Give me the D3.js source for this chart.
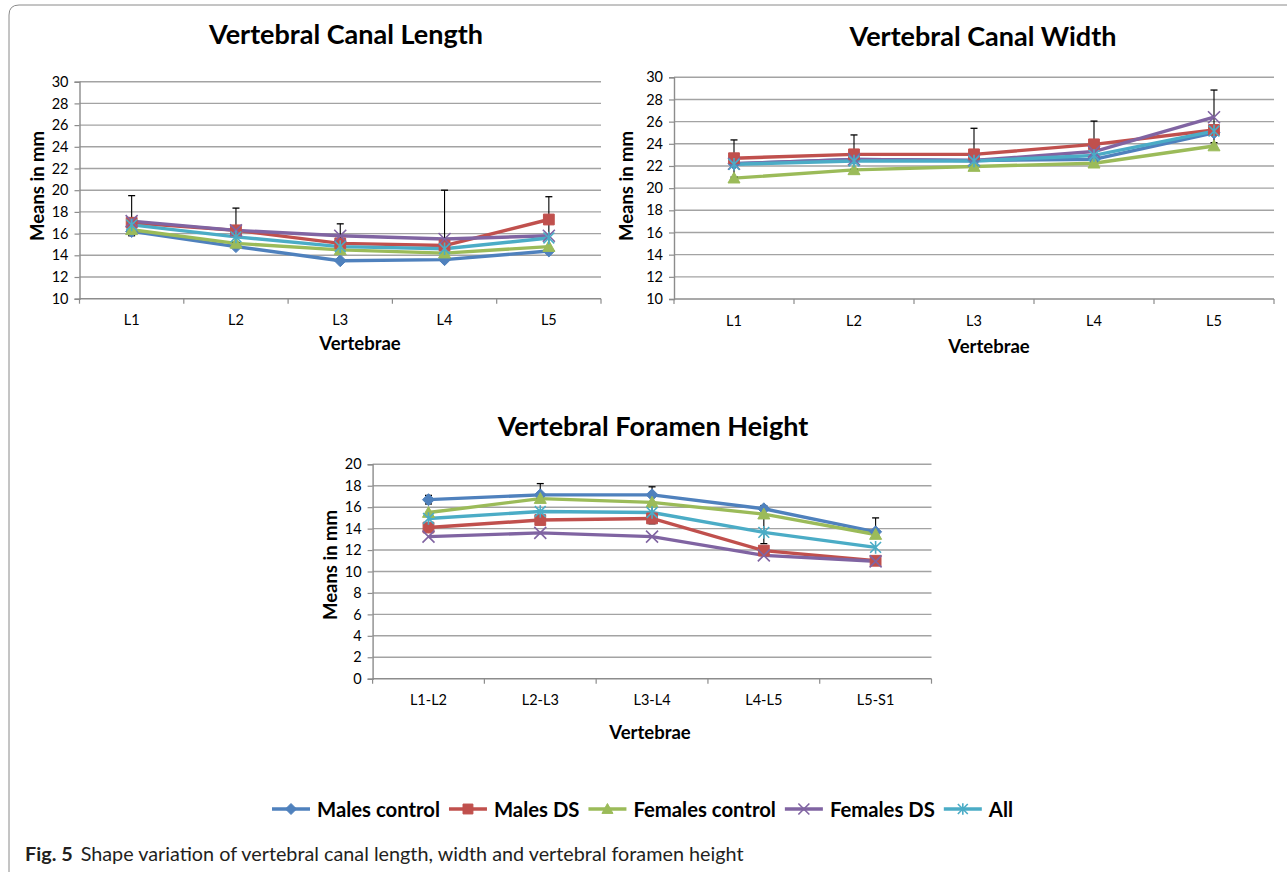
<!DOCTYPE html>
<html>
<head>
<meta charset="utf-8">
<script src="https://cdn.jsdelivr.net/npm/d3@7"></script>
<style>
  html, body { margin: 0; padding: 0; background: #ffffff; }
  svg { display: block; }
  text { font-family: Lato, "Open Sans", sans-serif; }
</style>
</head>
<body>
<svg id="fig" width="1287" height="872"></svg>
<script>
// ---------------- data ----------------
const seriesNames = ["Males control", "Males DS", "Females control", "Females DS", "All"];
const seriesColors = ["#4F81BD", "#C0504D", "#9BBB59", "#8064A2", "#4BACC6"];
const seriesMarkers = ["diamond", "square", "triangle", "x", "star"];

const lengthCategories = ["L1", "L2", "L3", "L4", "L5"];
const lengthMalesControl   = [16.2, 14.8, 13.5, 13.6, 14.4];
const lengthMalesDS        = [17.0, 16.3, 15.1, 14.9, 17.3];
const lengthFemalesControl = [16.35, 15.1, 14.5, 14.2, 14.8];
const lengthFemalesDS      = [17.15, 16.3, 15.8, 15.5, 15.8];
const lengthAll            = [16.8, 15.7, 14.8, 14.6, 15.6];
const lengthErrHigh        = [19.5, 18.35, 16.9, 20.0, 19.4];
const lengthErrLow         = [15.8, 15.2, 14.4, 14.2, 14.6];
const lengthTicks = [10, 12, 14, 16, 18, 20, 22, 24, 26, 28, 30];

const widthCategories = ["L1", "L2", "L3", "L4", "L5"];
const widthMalesControl   = [22.2, 22.6, 22.5, 22.6, 25.0];
const widthMalesDS        = [22.7, 23.05, 23.05, 23.95, 25.25];
const widthFemalesControl = [20.9, 21.65, 21.95, 22.25, 23.8];
const widthFemalesDS      = [22.2, 22.6, 22.5, 23.3, 26.4];
const widthAll            = [22.15, 22.45, 22.45, 22.95, 25.15];
const widthErrHigh        = [24.35, 24.8, 25.4, 26.05, 28.85];
const widthErrLow         = [21.0, 21.7, 22.0, 22.4, 24.1];
const widthTicks = [10, 12, 14, 16, 18, 20, 22, 24, 26, 28, 30];

const heightCategories = ["L1-L2", "L2-L3", "L3-L4", "L4-L5", "L5-S1"];
const heightMalesControl   = [16.7, 17.15, 17.15, 15.85, 13.7];
const heightMalesDS        = [14.1, 14.8, 14.95, 11.95, 11.0];
const heightFemalesControl = [15.5, 16.8, 16.45, 15.35, 13.45];
const heightFemalesDS      = [13.25, 13.6, 13.25, 11.5, 10.95];
const heightAll            = [14.95, 15.6, 15.5, 13.65, 12.25];
const heightErrHigh        = [17.1, 18.2, 17.9, 16.15, 15.0];
const heightErrLow         = [16.3, 16.8, 14.45, 12.6, 13.4];
const heightTicks = [0, 2, 4, 6, 8, 10, 12, 14, 16, 18, 20];

// ---------------- drawing ----------------
const svg = d3.select("#fig");

// figure frame
svg.append("path")
  .attr("d", "M9,872 L9,15 Q9,5 19,5 L1287,5")
  .attr("fill", "none").attr("stroke", "#8a8a8a").attr("stroke-width", 1);

function markerPath(type, s) {
  const r = s;
  switch (type) {
    case "diamond": return `M0,${-r} L${r},0 L0,${r} L${-r},0 Z`;
    case "square": return `M${-r*0.9},${-r*0.9} H${r*0.9} V${r*0.9} H${-r*0.9} Z`;
    case "triangle": return `M0,${-r} L${r},${r*0.8} L${-r},${r*0.8} Z`;
    case "x": return `M${-r},${-r} L${r},${r} M${-r},${r} L${r},${-r}`;
    case "star": return `M${-r*0.9},${-r*0.9} L${r*0.9},${r*0.9} M${-r*0.9},${r*0.9} L${r*0.9},${-r*0.9} M0,${-r*1.05} L0,${r*1.05}`;
  }
}
function drawMarker(g, type, color, x, y, s) {
  const filled = (type === "diamond" || type === "square" || type === "triangle");
  g.append("path")
    .attr("d", markerPath(type, s))
    .attr("transform", `translate(${x},${y})`)
    .attr("fill", filled ? color : "none")
    .attr("stroke", color)
    .attr("stroke-width", filled ? 1 : 1.6);
}

function drawChart(cfg) {
  const g = svg.append("g");
  const x = d3.scaleBand().domain(cfg.categories).range([cfg.left, cfg.right]);
  const y = d3.scaleLinear().domain(cfg.domain).range([cfg.bottom, cfg.top]);

  // gridlines
  g.append("g").selectAll("line").data(cfg.ticks.filter(t => t !== cfg.domain[0])).join("line")
    .attr("x1", cfg.left).attr("x2", cfg.right)
    .attr("y1", d => y(d)).attr("y2", d => y(d))
    .attr("stroke", "#a3a3a3").attr("stroke-width", 1.4);

  // y axis
  const yAxis = d3.axisLeft(y).tickValues(cfg.ticks).tickSize(5).tickPadding(6).tickFormat(d3.format("d"));
  const ya = g.append("g").attr("transform", `translate(${cfg.left},0)`).call(yAxis);
  ya.select(".domain").attr("stroke", "#8c8c8c").attr("stroke-width", 1.4);
  ya.selectAll(".tick line").attr("stroke", "#8c8c8c").attr("stroke-width", 1.2);
  ya.selectAll(".tick text").attr("font-size", 14.5).attr("fill", "#000").style("font-family", "Lato");

  // x axis
  const xa = g.append("g").attr("transform", `translate(0,${cfg.bottom})`);
  xa.append("line").attr("x1", cfg.left).attr("x2", cfg.right).attr("y1", 0).attr("y2", 0)
    .attr("stroke", "#8c8c8c").attr("stroke-width", 1.4);
  const bounds = cfg.categories.map(c => x(c)).concat([cfg.right]);
  xa.selectAll("line.tk").data(bounds).join("line").attr("class", "tk")
    .attr("x1", d => d).attr("x2", d => d).attr("y1", 0).attr("y2", 5)
    .attr("stroke", "#8c8c8c").attr("stroke-width", 1.2);
  xa.selectAll("text").data(cfg.categories).join("text")
    .attr("x", d => x(d) + x.bandwidth() / 2).attr("y", cfg.xLabelY - cfg.bottom)
    .attr("text-anchor", "middle").attr("dominant-baseline", "central")
    .attr("font-size", 14.5).attr("fill", "#000").text(d => d);

  // titles
  g.append("text").attr("x", cfg.titleX).attr("y", cfg.titleY)
    .attr("text-anchor", "middle").attr("dominant-baseline", "central")
    .attr("font-size", 27).attr("font-weight", "bold").text(cfg.title);
  g.append("text").attr("x", cfg.xTitleX).attr("y", cfg.xTitleY)
    .attr("text-anchor", "middle").attr("dominant-baseline", "central")
    .attr("font-size", 18.5).attr("font-weight", "bold").text("Vertebrae");
  g.append("text").attr("transform", `translate(${cfg.yTitleX},${cfg.yTitleY}) rotate(-90)`)
    .attr("text-anchor", "middle").attr("dominant-baseline", "central")
    .attr("font-size", 18.5).attr("font-weight", "bold").text("Means in mm");

  const cx = i => x(cfg.categories[i]) + x.bandwidth() / 2;
  const line = d3.line().x((d, i) => cx(i)).y(d => y(d));

  // lines
  cfg.series.forEach((vals, si) => {
    g.append("path").datum(vals).attr("d", line)
      .attr("fill", "none").attr("stroke", seriesColors[si]).attr("stroke-width", 3.4)
      .attr("stroke-linejoin", "round");
  });

  // error bars
  const eb = g.append("g");
  cfg.errHigh.forEach((hi, i) => {
    const lo = cfg.errLow[i];
    eb.append("line").attr("x1", cx(i)).attr("x2", cx(i)).attr("y1", y(hi)).attr("y2", y(lo))
      .attr("stroke", "#000").attr("stroke-width", 1.1);
    [hi, lo].forEach(v => {
      eb.append("line").attr("x1", cx(i) - 3.5).attr("x2", cx(i) + 3.5).attr("y1", y(v)).attr("y2", y(v))
        .attr("stroke", "#000").attr("stroke-width", 1.3);
    });
  });

  // markers
  cfg.series.forEach((vals, si) => {
    vals.forEach((v, i) => drawMarker(g, seriesMarkers[si], seriesColors[si], cx(i), y(v), 6));
  });
}

drawChart({
  title: "Vertebral Canal Length", titleX: 346, titleY: 33,
  categories: lengthCategories, domain: [10, 30], ticks: lengthTicks,
  series: [lengthMalesControl, lengthMalesDS, lengthFemalesControl, lengthFemalesDS, lengthAll],
  errHigh: lengthErrHigh, errLow: lengthErrLow,
  left: 79.5, right: 601, top: 81.7, bottom: 298.7,
  xLabelY: 320, xTitleX: 360, xTitleY: 343, yTitleX: 37, yTitleY: 186
});

drawChart({
  title: "Vertebral Canal Width", titleX: 983, titleY: 35,
  categories: widthCategories, domain: [10, 30], ticks: widthTicks,
  series: [widthMalesControl, widthMalesDS, widthFemalesControl, widthFemalesDS, widthAll],
  errHigh: widthErrHigh, errLow: widthErrLow,
  left: 674, right: 1274, top: 77.3, bottom: 299,
  xLabelY: 320, xTitleX: 989, xTitleY: 346, yTitleX: 626, yTitleY: 186
});

drawChart({
  title: "Vertebral Foramen Height", titleX: 653, titleY: 425,
  categories: heightCategories, domain: [0, 20], ticks: heightTicks,
  series: [heightMalesControl, heightMalesDS, heightFemalesControl, heightFemalesDS, heightAll],
  errHigh: heightErrHigh, errLow: heightErrLow,
  left: 372.6, right: 931.5, top: 464.3, bottom: 678.7,
  xLabelY: 700, xTitleX: 650, xTitleY: 732, yTitleX: 330, yTitleY: 565
});

// legend (flowed left to right)
const lg = svg.append("g");
let lx = 272;
seriesNames.forEach((name, i) => {
  lg.append("line").attr("x1", lx).attr("x2", lx + 38).attr("y1", 809).attr("y2", 809)
    .attr("stroke", seriesColors[i]).attr("stroke-width", 3.4);
  drawMarker(lg, seriesMarkers[i], seriesColors[i], lx + 19, 809, 5.5);
  const t = lg.append("text").attr("x", lx + 45).attr("y", 809).attr("dominant-baseline", "central")
    .attr("font-size", 20.3).attr("font-weight", "bold").text(name);
  lx = lx + 45 + t.node().getComputedTextLength() + 9;
});

// caption
const cap = svg.append("text").attr("x", 25).attr("y", 853).attr("dominant-baseline", "central")
  .attr("font-size", 19.8).attr("fill", "#231f20");
cap.append("tspan").attr("font-weight", "bold").text("Fig. 5");
cap.append("tspan").attr("dx", 8).text("Shape variation of vertebral canal length, width and vertebral foramen height");
</script>
</body>
</html>
